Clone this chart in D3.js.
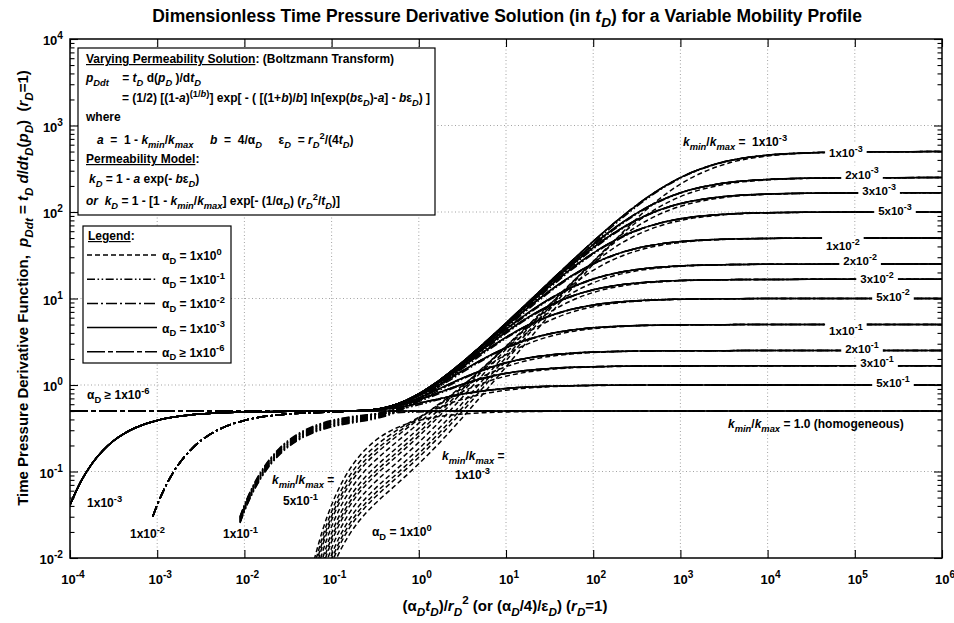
<!DOCTYPE html>
<html><head><meta charset="utf-8">
<script src="https://cdn.jsdelivr.net/npm/d3@7"></script>
<style>
body{margin:0;background:#fff}
svg{display:block;font-family:"Liberation Sans",Arial,Helvetica,sans-serif;font-weight:bold}
text{white-space:pre}
</style></head><body>
<svg id="chart" width="954" height="623"></svg>
<script>
// ---------------------------------------------------------------------------
// Data: dimensionless time-pressure derivative pDdt versus (alphaD tD)/rD^2
// one curve per (alphaD, kmin/kmax) pair
// ---------------------------------------------------------------------------
const kRatios = [0.001, 0.002, 0.003, 0.005, 0.01, 0.02, 0.03, 0.05, 0.1, 0.2, 0.3, 0.5, 1.0];
const kLabels = ["1x10^{-3}", "2x10^{-3}", "3x10^{-3}", "5x10^{-3}", "1x10^{-2}", "2x10^{-2}", "3x10^{-2}", "5x10^{-2}",
                 "1x10^{-1}", "2x10^{-1}", "3x10^{-1}", "5x10^{-1}", "1.0"];
const alphaLabels = ["1x10^{0}", "1x10^{-1}", "1x10^{-2}", "1x10^{-3}", "1x10^{-6}"];
const xTickExps = [-4, -3, -2, -1, 0, 1, 2, 3, 4, 5, 6];
const yTickExps = [-2, -1, 0, 1, 2, 3, 4];

// alphaD = 1 (dashed)
const xA0 = [0.0631, 0.07943, 0.1, 0.1259, 0.1585, 0.1995, 0.2512, 0.3162, 0.5623, 1, 1.778, 3.162, 5.623, 10,
             17.78, 31.62, 56.23, 100, 177.8, 316.2, 562.3, 1000, 3162, 1e4, 3.162e4, 1e5, 1e6];
const pA0 = [
  [0.001691, 0.003821, 0.007298, 0.01221, 0.0184, 0.02561, 0.03364, 0.04257, 0.07184, 0.1228, 0.2214, 0.4184, 0.8164, 1.621, 3.245, 6.494, 12.88, 25.07, 47.19, 84.25, 139.5, 210.4, 354.8, 444.0, 481.0, 493.8, 499.5],
  [0.002011, 0.004544, 0.008679, 0.01452, 0.02188, 0.03046, 0.04001, 0.05063, 0.08537, 0.146, 0.2629, 0.4961, 0.9648, 1.906, 3.78, 7.439, 14.36, 26.75, 47.09, 76.57, 113.0, 150.7, 208.1, 235.2, 245.2, 248.6, 249.9],
  [0.002226, 0.005029, 0.009605, 0.01607, 0.02421, 0.03371, 0.04427, 0.05603, 0.09448, 0.1614, 0.2905, 0.5472, 1.061, 2.085, 4.097, 7.942, 14.95, 26.8, 44.68, 67.91, 93.28, 116.4, 147.1, 160.0, 164.5, 166.0, 166.6],
  [0.002529, 0.005713, 0.01091, 0.01826, 0.02751, 0.0383, 0.05031, 0.06364, 0.1073, 0.1831, 0.329, 0.6176, 1.191, 2.315, 4.47, 8.421, 15.15, 25.49, 39.13, 54.33, 68.46, 79.68, 92.63, 97.6, 99.2, 99.8, 100.0],
  [0.003007, 0.006794, 0.01298, 0.02172, 0.03272, 0.04555, 0.05983, 0.07561, 0.1274, 0.2169, 0.388, 0.7226, 1.373, 2.605, 4.831, 8.551, 14.09, 21.17, 28.75, 35.55, 40.81, 44.43, 48.11, 49.39, 49.84, 49.95, 50.0],
  [0.003576, 0.008079, 0.01543, 0.02583, 0.03891, 0.05417, 0.07115, 0.08993, 0.1512, 0.2562, 0.4539, 0.8319, 1.538, 2.792, 4.838, 7.791, 11.43, 15.18, 18.43, 20.87, 22.52, 23.54, 24.52, 24.85, 24.96, 24.99, 25.0],
  [0.003958, 0.00894, 0.01708, 0.02858, 0.04306, 0.05994, 0.07873, 0.09946, 0.1669, 0.2813, 0.4943, 0.892, 1.608, 2.806, 4.602, 6.924, 9.445, 11.73, 13.52, 14.75, 15.54, 16.02, 16.46, 16.6, 16.65, 16.66, 16.67],
  [0.004497, 0.01016, 0.0194, 0.03247, 0.04893, 0.06811, 0.08946, 0.1129, 0.1886, 0.3152, 0.544, 0.9539, 1.642, 2.683, 4.047, 5.551, 6.939, 8.035, 8.8, 9.291, 9.589, 9.765, 9.924, 9.976, 9.994, 9.998, 10.0],
  [0.005348, 0.01208, 0.02308, 0.03862, 0.05818, 0.081, 0.1064, 0.1338, 0.2215, 0.362, 0.6005, 0.9862, 1.548, 2.25, 2.99, 3.643, 4.141, 4.482, 4.696, 4.825, 4.901, 4.944, 4.983, 4.996, 4.999, 5.0, 5.0],
  [0.006359, 0.01437, 0.02744, 0.04592, 0.06919, 0.09632, 0.1265, 0.1583, 0.257, 0.4026, 0.6219, 0.9223, 1.277, 1.629, 1.925, 2.142, 2.286, 2.376, 2.429, 2.46, 2.478, 2.487, 2.496, 2.499, 2.5, 2.5, 2.5],
  [0.007037, 0.0159, 0.03037, 0.05082, 0.07656, 0.1066, 0.14, 0.1742, 0.2777, 0.4181, 0.6077, 0.8344, 1.066, 1.265, 1.415, 1.515, 1.578, 1.616, 1.637, 1.65, 1.657, 1.661, 1.665, 1.666, 1.667, 1.667, 1.667],
  [0.007996, 0.01806, 0.03451, 0.05775, 0.087, 0.1211, 0.1581, 0.1958, 0.301, 0.4222, 0.5556, 0.6844, 0.792, 0.8706, 0.9226, 0.9548, 0.9741, 0.9852, 0.9917, 0.9953, 0.9973, 0.9985, 0.9997, 0.9999, 1.0, 1.0, 1.0],
  [0.009507, 0.02148, 0.04104, 0.06864, 0.1033, 0.1428, 0.1848, 0.2268, 0.3206, 0.3894, 0.4344, 0.462, 0.4783, 0.4877, 0.493, 0.4961, 0.4978, 0.4988, 0.4993, 0.4996, 0.4998, 0.4999, 0.5, 0.5, 0.5, 0.5, 0.5]
];

// alphaD = 0.1 (dash-dot-dot)
const xA1 = [8.9e-3, 0.01, 0.01259, 0.01585, 0.02512, 0.03981, 0.0631, 0.1,
             0.1778, 0.3162, 0.5623, 1, 1.778, 3.162, 5.623, 10, 17.78, 31.62, 56.23, 100, 177.8, 316.2, 562.3, 1000,
             3162, 1e4, 1e5, 1e6];
const pA1 = [
  [0.02535, 0.03453, 0.05775, 0.08688, 0.1555, 0.2245, 0.2831, 0.3276, 0.3669, 0.4064, 0.4864, 0.6562, 0.9837, 1.586, 2.676, 4.632, 8.118, 14.27, 24.97, 43.04, 72.24, 116.1, 175.7, 245.9, 377.4, 453.5, 495.0, 499.5],
  [0.02579, 0.03514, 0.05876, 0.0884, 0.1582, 0.2285, 0.288, 0.3334, 0.3733, 0.4134, 0.4948, 0.6673, 0.9996, 1.61, 2.709, 4.668, 8.119, 14.09, 24.1, 40.07, 63.65, 94.78, 130.4, 165.1, 215.1, 238.0, 248.8, 249.9],
  [0.02606, 0.03549, 0.05936, 0.0893, 0.1598, 0.2308, 0.291, 0.3368, 0.3771, 0.4176, 0.4998, 0.6737, 1.008, 1.622, 2.722, 4.671, 8.063, 13.82, 23.15, 37.3, 56.68, 79.87, 103.6, 124.2, 150.4, 161.2, 166.1, 166.6],
  [0.02639, 0.03595, 0.06013, 0.09045, 0.1619, 0.2337, 0.2947, 0.3411, 0.382, 0.423, 0.506, 0.6816, 1.019, 1.634, 2.729, 4.643, 7.901, 13.22, 21.35, 32.65, 46.38, 60.67, 73.32, 83.03, 93.94, 98.0, 99.8, 99.98],
  [0.02685, 0.03658, 0.06118, 0.09203, 0.1647, 0.2378, 0.2998, 0.3471, 0.3886, 0.4302, 0.5143, 0.6914, 1.029, 1.64, 2.707, 4.514, 7.432, 11.82, 17.75, 24.76, 31.79, 37.83, 42.35, 45.39, 48.44, 49.48, 49.95, 50.0],
  [0.02732, 0.03722, 0.06225, 0.09364, 0.1676, 0.242, 0.3051, 0.3531, 0.3954, 0.4376, 0.5222, 0.6994, 1.034, 1.625, 2.623, 4.217, 6.568, 9.666, 13.2, 16.64, 19.49, 21.57, 22.95, 23.8, 24.6, 24.87, 24.99, 25.0],
  [0.0276, 0.0376, 0.06288, 0.09459, 0.1693, 0.2445, 0.3082, 0.3567, 0.3995, 0.4418, 0.5264, 0.7023, 1.03, 1.6, 2.529, 3.937, 5.862, 8.156, 10.49, 12.52, 14.05, 15.09, 15.74, 16.13, 16.49, 16.61, 16.66, 16.67],
  [0.02796, 0.03808, 0.06369, 0.09581, 0.1715, 0.2476, 0.3122, 0.3613, 0.4045, 0.4471, 0.531, 0.7031, 1.017, 1.542, 2.347, 3.462, 4.811, 6.206, 7.434, 8.372, 9.013, 9.42, 9.665, 9.809, 9.939, 9.981, 9.998, 10.0],
  [0.02844, 0.03875, 0.0648, 0.09748, 0.1745, 0.2519, 0.3176, 0.3676, 0.4115, 0.4539, 0.5347, 0.6953, 0.973, 1.398, 1.973, 2.645, 3.313, 3.879, 4.298, 4.578, 4.753, 4.858, 4.919, 4.955, 4.986, 4.996, 5.0, 5.0],
  [0.02894, 0.03942, 0.06593, 0.09919, 0.1775, 0.2563, 0.3232, 0.374, 0.4186, 0.4598, 0.5332, 0.6696, 0.8837, 1.168, 1.488, 1.792, 2.038, 2.215, 2.33, 2.401, 2.444, 2.468, 2.482, 2.49, 2.496, 2.499, 2.5, 2.5],
  [0.02924, 0.03983, 0.06661, 0.1002, 0.1793, 0.2589, 0.3265, 0.3779, 0.4227, 0.4624, 0.5281, 0.6421, 0.8061, 1.001, 1.193, 1.354, 1.472, 1.55, 1.599, 1.628, 1.644, 1.654, 1.66, 1.663, 1.665, 1.666, 1.667, 1.667],
  [0.02961, 0.04034, 0.06746, 0.1015, 0.1817, 0.2623, 0.3307, 0.3827, 0.4278, 0.4642, 0.5146, 0.5903, 0.6833, 0.7759, 0.8529, 0.9088, 0.9456, 0.9683, 0.9818, 0.9897, 0.9941, 0.9967, 0.9982, 0.999, 0.9997, 0.9999, 1.0, 1.0],
  [0.03013, 0.04104, 0.06864, 0.1033, 0.1848, 0.2669, 0.3364, 0.3894, 0.4344, 0.462, 0.4783, 0.4877, 0.493, 0.4961, 0.4978, 0.4988, 0.4993, 0.4996, 0.4998, 0.4999, 0.4999, 0.5, 0.5, 0.5, 0.5, 0.5, 0.5, 0.5]
];

// early-time branches (identical for every kmin/kmax at these mobilities)
const xEarlyA2 = [8.9e-4, 1e-3, 1.259e-3, 1.585e-3, 2.512e-3, 3.981e-3, 6.31e-3, 0.01, 0.03162, 0.1];
const pEarlyA2 = [0.03013, 0.04104, 0.06864, 0.1033, 0.1848, 0.2669, 0.3364, 0.3894, 0.462, 0.4877];
const xEarlyA3 = [1e-4, 1.334e-4, 1.778e-4, 2.371e-4, 3.162e-4, 4.217e-4, 5.623e-4, 1e-3, 1.778e-3, 3.162e-3, 0.01, 0.03162, 0.1];
const pEarlyA3 = [0.04104, 0.0767, 0.1226, 0.1742, 0.2268, 0.2764, 0.3206, 0.3894, 0.4344, 0.462, 0.4877, 0.4961, 0.4988];
const xEarlyA6 = [1e-4, 0.01, 0.1];
const pEarlyA6 = [0.5, 0.5, 0.5];

// late-time branch shared by alphaD <= 1e-2
const xLate = [0.1778, 0.3162, 0.5623, 1, 1.778, 3.162, 5.623, 10, 17.78, 31.62, 56.23, 100, 177.8, 316.2, 562.3,
               1000, 3162, 1e4, 3.162e4, 1e5, 1e6];
const pLate = [
  [0.5018, 0.5221, 0.6016, 0.7905, 1.161, 1.839, 3.053, 5.205, 8.988, 15.58, 26.87, 45.7, 75.74, 120.4, 180.2, 250.2, 380.0, 454.6, 484.7, 495.0, 499.5],
  [0.5018, 0.5221, 0.6014, 0.7901, 1.159, 1.835, 3.038, 5.156, 8.838, 15.12, 25.52, 41.91, 65.82, 97.06, 132.5, 166.8, 215.9, 238.1, 246.1, 248.8, 249.9],
  [0.5018, 0.522, 0.6013, 0.7896, 1.158, 1.83, 3.023, 5.108, 8.693, 14.69, 24.3, 38.7, 58.2, 81.32, 104.8, 125.1, 150.8, 161.3, 164.9, 166.1, 166.6],
  [0.5018, 0.522, 0.6011, 0.7887, 1.155, 1.82, 2.992, 5.016, 8.416, 13.9, 22.18, 33.56, 47.26, 61.42, 73.88, 83.41, 94.08, 98.05, 99.37, 99.8, 99.98],
  [0.5018, 0.5219, 0.6005, 0.7864, 1.147, 1.796, 2.919, 4.798, 7.796, 12.25, 18.22, 25.19, 32.15, 38.09, 42.52, 45.5, 48.48, 49.51, 49.84, 49.95, 50.0],
  [0.5017, 0.5216, 0.5993, 0.7819, 1.132, 1.75, 2.783, 4.415, 6.795, 9.9, 13.42, 16.81, 19.61, 21.65, 23.0, 23.83, 24.62, 24.88, 24.96, 24.99, 25.0],
  [0.5017, 0.5214, 0.598, 0.7774, 1.118, 1.707, 2.659, 4.088, 6.021, 8.306, 10.62, 12.61, 14.11, 15.12, 15.76, 16.15, 16.5, 16.61, 16.65, 16.66, 16.67],
  [0.5017, 0.5209, 0.5956, 0.7686, 1.09, 1.626, 2.442, 3.561, 4.905, 6.284, 7.491, 8.41, 9.037, 9.434, 9.673, 9.814, 9.94, 9.981, 9.994, 9.998, 10.0],
  [0.5016, 0.5198, 0.5897, 0.7475, 1.027, 1.454, 2.027, 2.693, 3.351, 3.906, 4.315, 4.589, 4.76, 4.862, 4.921, 4.955, 4.986, 4.996, 4.999, 5.0, 5.0],
  [0.5015, 0.5175, 0.5782, 0.7085, 0.919, 1.199, 1.514, 1.811, 2.051, 2.223, 2.335, 2.404, 2.445, 2.469, 2.482, 2.49, 2.496, 2.499, 2.5, 2.5, 2.5],
  [0.5013, 0.5153, 0.5671, 0.6734, 0.8318, 1.021, 1.208, 1.364, 1.478, 1.554, 1.601, 1.629, 1.645, 1.655, 1.66, 1.663, 1.665, 1.666, 1.667, 1.667, 1.667],
  [0.5009, 0.5108, 0.5462, 0.6127, 0.6992, 0.7867, 0.8599, 0.9131, 0.9482, 0.9698, 0.9827, 0.9902, 0.9944, 0.9969, 0.9982, 0.999, 0.9997, 0.9999, 1.0, 1.0, 1.0],
  [0.5, 0.5, 0.5, 0.5, 0.5, 0.5, 0.5, 0.5, 0.5, 0.5, 0.5, 0.5, 0.5, 0.5, 0.5, 0.5, 0.5, 0.5, 0.5, 0.5, 0.5]
];

// ---------------------------------------------------------------------------
// Layout
// ---------------------------------------------------------------------------
const svg = d3.select("#chart");
const P = {left: 70, right: 942, top: 39, bottom: 558};
const x = d3.scaleLog().domain([1e-4, 1e6]).range([P.left, P.right]);
const y = d3.scaleLog().domain([1e-2, 1e4]).range([P.bottom, P.top]);

// rich text: _{..} subscript, ^{..} superscript, |..| italic, ~..~ underline
function rich(sel, markup, size) {
  const segs = [];
  let buf = "", lvl = 0, ital = false, und = false;
  const stack = [];
  const push = () => { if (buf) segs.push({t: buf, lvl, ital, und}); buf = ""; };
  for (let i = 0; i < markup.length; i++) {
    const c = markup[i];
    if ((c === "_" || c === "^") && markup[i + 1] === "{") { push(); stack.push(lvl); lvl = c === "_" ? -1 : 1; i++; }
    else if (c === "}" && stack.length) { push(); lvl = stack.pop(); }
    else if (c === "|") { push(); ital = !ital; }
    else if (c === "~") { push(); und = !und; }
    else buf += c;
  }
  push();
  let off = 0;
  sel.attr("font-size", size);
  segs.forEach(s => {
    const target = s.lvl < 0 ? size * 0.3 : s.lvl > 0 ? -size * 0.45 : 0;
    sel.append("tspan")
      .attr("dy", (target - off).toFixed(2))
      .attr("font-size", s.lvl ? (size * 0.78).toFixed(2) : size)
      .attr("font-style", s.ital ? "italic" : null)
      .attr("text-decoration", s.und ? "underline" : null)
      .text(s.t);
    off = target;
  });
  return sel;
}
function label(parent, px, py, markup, size, anchor) {
  const t = parent.append("text").attr("x", px).attr("y", py).attr("text-anchor", anchor || "start").attr("fill", "#000");
  return rich(t, markup, size);
}

svg.append("rect").attr("width", 954).attr("height", 623).attr("fill", "#fff");

// grid
const grid = svg.append("g").attr("stroke", "#8c8c8c").attr("stroke-width", 0.8).attr("stroke-dasharray", "1,2.5");
xTickExps.slice(1, -1).forEach(e => grid.append("line").attr("x1", x(10 ** e)).attr("x2", x(10 ** e)).attr("y1", P.top).attr("y2", P.bottom));
yTickExps.slice(1, -1).forEach(e => grid.append("line").attr("y1", y(10 ** e)).attr("y2", y(10 ** e)).attr("x1", P.left).attr("x2", P.right));

// ticks on all four sides, pointing inward
const xMajor = xTickExps.map(e => 10 ** e), yMajor = yTickExps.map(e => 10 ** e);
const xMinor = x.ticks().filter(v => !xMajor.some(m => Math.abs(m - v) / m < 1e-9));
const yMinor = y.ticks().filter(v => !yMajor.some(m => Math.abs(m - v) / m < 1e-9));
function axisPair(axisFn, scale, tf, major, minor) {
  const g = svg.append("g").attr("transform", tf);
  g.call(axisFn(scale).tickValues(major).tickSize(-8).tickFormat(""));
  g.select(".domain").remove();
  const g2 = svg.append("g").attr("transform", tf);
  g2.call(axisFn(scale).tickValues(minor).tickSize(-4.5).tickFormat(""));
  g2.select(".domain").remove();
  [g, g2].forEach(gg => gg.selectAll("line").attr("stroke", "#000").attr("stroke-width", 1.1));
}
axisPair(d3.axisBottom, x, `translate(0,${P.bottom})`, xMajor, xMinor);
axisPair(d3.axisTop, x, `translate(0,${P.top})`, xMajor, xMinor);
axisPair(d3.axisLeft, y, `translate(${P.left},0)`, yMajor, yMinor);
axisPair(d3.axisRight, y, `translate(${P.right},0)`, yMajor, yMinor);

// tick labels
xTickExps.forEach(e => label(svg, x(10 ** e) + 3, P.bottom + 26, `10^{${e}}`, 13, "middle"));
yTickExps.forEach(e => label(svg, P.left - 7, y(10 ** e) + 6, `10^{${e}}`, 13, "end"));

// ---------------------------------------------------------------------------
// Curves
// ---------------------------------------------------------------------------
svg.append("clipPath").attr("id", "plotclip").append("rect")
  .attr("x", P.left).attr("y", P.top).attr("width", P.right - P.left).attr("height", P.bottom - P.top);
const plot = svg.append("g").attr("clip-path", "url(#plotclip)");
const line = d3.line().x(d => x(d[0])).y(d => y(d[1])).curve(d3.curveMonotoneX);
const zip = (xs, ps) => xs.map((v, i) => [v, ps[i]]);

const families = [
  {name: "a6", dash: "18,3,5,3", curves: kRatios.map((k, i) => zip(xEarlyA6.concat(xLate), pEarlyA6.concat(pLate[i])))},
  {name: "a2", dash: "11,3,2,3", curves: kRatios.map((k, i) => zip(xEarlyA2.concat(xLate), pEarlyA2.concat(pLate[i])))},
  {name: "a1", dash: "8,2.5,1.6,2.5,1.6,2.5", curves: kRatios.map((k, i) => zip(xA1, pA1[i]))},
  {name: "a0", dash: "5,3", curves: kRatios.map((k, i) => zip(xA0, pA0[i]))},
  {name: "a3", dash: null, curves: kRatios.map((k, i) => zip(xEarlyA3.concat(xLate), pEarlyA3.concat(pLate[i])))}
];
families.forEach(f => {
  plot.append("g").attr("class", "family-" + f.name)
    .selectAll("path").data(f.curves).join("path")
    .attr("d", line).attr("fill", "none").attr("stroke", "#000")
    .attr("stroke-width", 1.5).attr("stroke-dasharray", f.dash);
});

// ---------------------------------------------------------------------------
// Plateau labels (kmin/kmax), drawn over the curves with a white backing
// ---------------------------------------------------------------------------
const plateauAt = [7.9e4, 1.21e5, 1.9e5, 2.89e5, 7.3e4, 1.15e5, 1.8e5, 2.74e5, 7.9e4, 1.21e5, 1.8e5, 2.74e5];
const plateauDy = [5.5, 1, 2.5, 3, 12, 1, 4, 2, 10.5, 2.5, 1.5, 2];
const labelsG = svg.append("g");
kRatios.slice(0, 12).forEach((k, i) => {
  const yl = y(pLate[i][pLate[i].length - 1]);
  const g = labelsG.append("g");
  const t = label(g, x(plateauAt[i]), yl + plateauDy[i], kLabels[i], 11.5, "middle");
  const bb = t.node().getBBox();
  const top = Math.min(bb.y, yl - 2), bot = Math.max(bb.y + bb.height, yl + 2);
  g.insert("rect", "text").attr("x", bb.x - 4).attr("y", top).attr("width", bb.width + 8)
    .attr("height", bot - top).attr("fill", "#fff");
});

// in-plot annotations
const ann = svg.append("g");
label(ann, x(1.57e-4), y(0.69), "α_{D} ≥ 1x10^{-6}", 12);
label(ann, x(1.57e-4), y(0.0389), "1x10^{-3}", 12);
label(ann, x(4.88e-4), y(0.017), "1x10^{-2}", 12);
label(ann, x(5.69e-3), y(0.017), "1x10^{-1}", 12);
label(ann, x(0.0207), y(0.0717), "|k|_{|min|}/|k|_{|max|} =", 12);
label(ann, x(0.0277), y(0.041), "5x10^{-1}", 12);
label(ann, x(1.85), y(0.136), "|k|_{|min|}/|k|_{|max|} =", 12);
label(ann, x(2.6), y(0.0818), "1x10^{-3}", 12);
label(ann, x(0.29), y(0.018), "α_{D} = 1x10^{0}", 12);
label(ann, x(1072), y(579), "|k|_{|min|}/|k|_{|max|} =  1x10^{-3}", 12);
label(ann, x(3516), y(0.318), "|k|_{|min|}/|k|_{|max|} = 1.0 (homogeneous)", 12);

// ---------------------------------------------------------------------------
// Equation box
// ---------------------------------------------------------------------------
const eq = svg.append("g");
eq.append("rect").attr("x", 78).attr("y", 48).attr("width", 357).attr("height", 167)
  .attr("fill", "#fff").attr("stroke", "#000").attr("stroke-width", 1.2);
const eqLines = [
  [86, 63, "~Varying Permeability Solution~: (Boltzmann Transform)"],
  [86, 82, "|p|_{|Ddt|}    = |t|_{|D|} d(|p|_{|D|} )/d|t|_{|D|}"],
  [122, 102, "= (1/2) [(1-|a|)^{(1/|b|)}] exp[ - ( [(1+|b|)/|b|] ln[exp(|b|ε_{|D|})-|a|] - |b|ε_{|D|}) ]"],
  [86, 121, "where"],
  [97, 144, "|a|  =  1 - |k|_{|min|}/|k|_{|max|}     |b|  =  4/α_{|D|}     ε_{|D|}  = |r|_{|D|}^{2}/(4|t|_{|D|})"],
  [86, 163, "~Permeability Model~:"],
  [89, 183, "|k|_{|D|} = 1 - |a| exp(- |b|ε_{|D|})"],
  [86, 205, "|or|  |k|_{|D|} = 1 - [1 - |k|_{|min|}/|k|_{|max|}] exp[- (1/α_{|D|}) (|r|_{|D|}^{2}/|t|_{|D|})]"]
];
eqLines.forEach(([px, py, m]) => label(eq, px, py, m, 12));

// ---------------------------------------------------------------------------
// Legend
// ---------------------------------------------------------------------------
const lg = svg.append("g");
lg.append("rect").attr("x", 83).attr("y", 226).attr("width", 148).attr("height", 137)
  .attr("fill", "#fff").attr("stroke", "#000").attr("stroke-width", 1.2);
label(lg, 88, 240, "~Legend~:", 12);
const legendOrder = ["a0", "a1", "a2", "a3", "a6"];
legendOrder.forEach((nm, i) => {
  const f = families.find(ff => ff.name === nm);
  const ly = 255 + i * 24.2;
  lg.append("line").attr("x1", 87).attr("x2", 157).attr("y1", ly).attr("y2", ly)
    .attr("stroke", "#000").attr("stroke-width", 1.5).attr("stroke-dasharray", f.dash);
  label(lg, 162, ly + 5, (nm === "a6" ? "α_{D} ≥ " : "α_{D} = ") + alphaLabels[i], 12);
});

// frame
svg.append("rect").attr("x", P.left).attr("y", P.top).attr("width", P.right - P.left).attr("height", P.bottom - P.top)
  .attr("fill", "none").attr("stroke", "#000").attr("stroke-width", 1.5);

// titles
label(svg, 507, 22, "Dimensionless Time Pressure Derivative Solution (in |t|_{|D|}) for a Variable Mobility Profile", 17.5, "middle");
label(svg, 505, 611, "(α_{|D|}|t|_{|D|})/|r|_{|D|}^{2} (or (α_{|D|}/4)/ε_{|D|}) (|r|_{|D|}=1)", 15, "middle");
const yl = svg.append("text").attr("transform", "translate(28,288) rotate(-90)").attr("text-anchor", "middle");
rich(yl, "Time Pressure Derivative Function,  |p|_{|Ddt|} = |t|_{|D|} |d|/|dt|_{|D|}(|p|_{|D|})  (|r|_{|D|}=1)", 15);
</script></body></html>
